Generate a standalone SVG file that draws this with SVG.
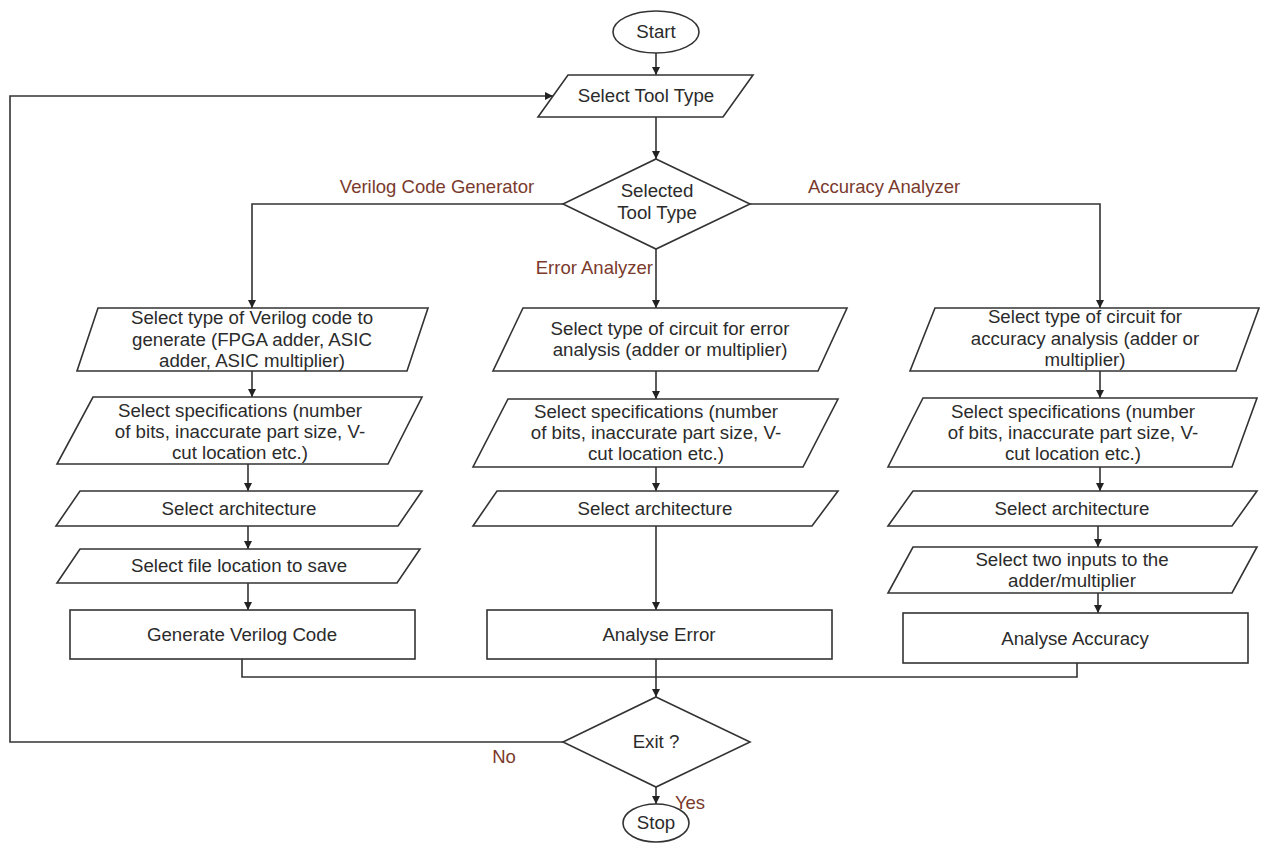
<svg xmlns="http://www.w3.org/2000/svg" width="1261" height="860" viewBox="0 0 1261 860">
<style>
.shape{fill:#fff;stroke:#333;stroke-width:1.6}
.t{font-family:"Liberation Sans",Arial,sans-serif;font-size:18.7px;fill:#2b2b2b;text-anchor:middle}
.lbl{font-family:"Liberation Sans",Arial,sans-serif;font-size:18.5px;fill:#7a3a2c}
.c{fill:none;stroke:#333;stroke-width:1.6}
</style>
<defs>
<marker id="arr" markerWidth="8" markerHeight="8" refX="8" refY="4" orient="auto" markerUnits="userSpaceOnUse">
<path d="M0,0 L8,4 L0,8 z" fill="#222"/>
</marker>
</defs>
<rect width="1261" height="860" fill="#fff"/>
<g id="connectors">
<path class="c" d="M656,53 V75" marker-end="url(#arr)"/>
<path class="c" d="M656,117 V159" marker-end="url(#arr)"/>
<path class="c" d="M563,204 H252 V308" marker-end="url(#arr)"/>
<path class="c" d="M750,204 H1100 V308" marker-end="url(#arr)"/>
<path class="c" d="M656,249 V308" marker-end="url(#arr)"/>
<path class="c" d="M252,371 V397" marker-end="url(#arr)"/>
<path class="c" d="M248,464 V491" marker-end="url(#arr)"/>
<path class="c" d="M248,526 V549" marker-end="url(#arr)"/>
<path class="c" d="M248,583 V610" marker-end="url(#arr)"/>
<path class="c" d="M656,371 V399" marker-end="url(#arr)"/>
<path class="c" d="M656,467 V491" marker-end="url(#arr)"/>
<path class="c" d="M656,526 V610" marker-end="url(#arr)"/>
<path class="c" d="M1100,371 V398" marker-end="url(#arr)"/>
<path class="c" d="M1100,467 V491" marker-end="url(#arr)"/>
<path class="c" d="M1098,526 V547" marker-end="url(#arr)"/>
<path class="c" d="M1098,593 V613" marker-end="url(#arr)"/>
<path class="c" d="M242,659 V677 H1077 V663"/>
<path class="c" d="M656,659 V697" marker-end="url(#arr)"/>
<path class="c" d="M563,742 H10 V96 H553" marker-end="url(#arr)"/>
<path class="c" d="M656,787 V804" marker-end="url(#arr)"/>
<text class="lbl" x="437" y="193" text-anchor="middle">Verilog Code Generator</text>
<text class="lbl" x="884" y="193" text-anchor="middle">Accuracy Analyzer</text>
<text class="lbl" x="653" y="274" text-anchor="end">Error Analyzer</text>
<text class="lbl" x="504" y="763" text-anchor="middle">No</text>
<text class="lbl" x="690" y="809" text-anchor="middle">Yes</text>
</g>
<g id="start">
<ellipse class="shape" cx="656" cy="32" rx="43" ry="21"/>
<text class="t" x="656" y="38">Start</text>
</g>
<g id="select-tool">
<polygon class="shape" points="568,75 753,75 723,117 538,117"/>
<text class="t" x="646" y="102">Select Tool Type</text>
</g>
<g id="selected-tool-type">
<polygon class="shape" points="656,159 750,204 656,249 563,204"/>
<text class="t" x="657" y="197">Selected</text>
<text class="t" x="657" y="219">Tool Type</text>
</g>
<g id="verilog-type">
<polygon class="shape" points="98,308 428,308 407,371 77,371"/>
<text class="t" x="252" y="324">Select type of Verilog code to</text>
<text class="t" x="252" y="346">generate (FPGA adder, ASIC</text>
<text class="t" x="252" y="367">adder, ASIC multiplier)</text>
</g>
<g id="verilog-spec">
<polygon class="shape" points="93,397 422,397 388,464 57,464"/>
<text class="t" x="240" y="417">Select specifications (number</text>
<text class="t" x="240" y="438">of bits, inaccurate part size, V-</text>
<text class="t" x="240" y="459">cut location etc.)</text>
</g>
<g id="verilog-arch">
<polygon class="shape" points="80,491 422,491 398,526 56,526"/>
<text class="t" x="239" y="515">Select architecture</text>
</g>
<g id="verilog-file">
<polygon class="shape" points="80,549 420,549 397,583 57,583"/>
<text class="t" x="239" y="572">Select file location to save</text>
</g>
<g id="generate-verilog">
<rect class="shape" x="70" y="610" width="345" height="49"/>
<text class="t" x="242" y="641">Generate Verilog Code</text>
</g>
<g id="error-type">
<polygon class="shape" points="523,308 847,308 818,371 493,371"/>
<text class="t" x="670" y="335">Select type of circuit for error</text>
<text class="t" x="670" y="356">analysis (adder or multiplier)</text>
</g>
<g id="error-spec">
<polygon class="shape" points="508,399 838,399 803,467 473,467"/>
<text class="t" x="656" y="418">Select specifications (number</text>
<text class="t" x="656" y="439">of bits, inaccurate part size, V-</text>
<text class="t" x="656" y="460">cut location etc.)</text>
</g>
<g id="error-arch">
<polygon class="shape" points="497,491 838,491 812,526 473,526"/>
<text class="t" x="655" y="515">Select architecture</text>
</g>
<g id="analyse-error">
<rect class="shape" x="487" y="610" width="345" height="49"/>
<text class="t" x="659" y="641">Analyse Error</text>
</g>
<g id="accuracy-type">
<polygon class="shape" points="935,308 1259,308 1236,371 910,371"/>
<text class="t" x="1085" y="323">Select type of circuit for</text>
<text class="t" x="1085" y="345">accuracy analysis (adder or</text>
<text class="t" x="1085" y="366">multiplier)</text>
</g>
<g id="accuracy-spec">
<polygon class="shape" points="923,398 1257,398 1232,467 888,467"/>
<text class="t" x="1073" y="418">Select specifications (number</text>
<text class="t" x="1073" y="439">of bits, inaccurate part size, V-</text>
<text class="t" x="1073" y="460">cut location etc.)</text>
</g>
<g id="accuracy-arch">
<polygon class="shape" points="913,491 1257,491 1232,526 888,526"/>
<text class="t" x="1072" y="515">Select architecture</text>
</g>
<g id="accuracy-inputs">
<polygon class="shape" points="913,547 1257,547 1232,593 888,593"/>
<text class="t" x="1072" y="566">Select two inputs to the</text>
<text class="t" x="1072" y="587">adder/multiplier</text>
</g>
<g id="analyse-accuracy">
<rect class="shape" x="903" y="613" width="345" height="50"/>
<text class="t" x="1075" y="645">Analyse Accuracy</text>
</g>
<g id="exit">
<polygon class="shape" points="656,697 750,742 656,787 563,742"/>
<text class="t" x="656" y="748">Exit ?</text>
</g>
<g id="stop">
<ellipse class="shape" cx="656" cy="823" rx="33" ry="19"/>
<text class="t" x="656" y="829">Stop</text>
</g>
</svg>
